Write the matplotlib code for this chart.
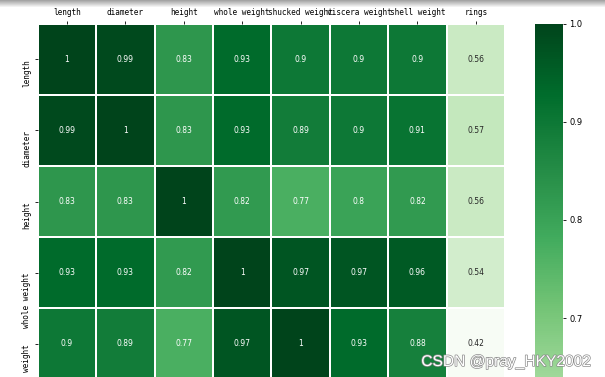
import numpy as np
import matplotlib
matplotlib.use("Agg")
import matplotlib.pyplot as plt
import matplotlib.patheffects as pe
import seaborn as sns

col_labels = ["length", "diameter", "height", "whole weight", "shucked weight",
              "viscera weight", "shell weight", "rings"]
row_labels = ["length", "diameter", "height", "whole weight", "shucked weight"]

row_length = [1.00, 0.99, 0.83, 0.93, 0.90, 0.90, 0.90, 0.56]
row_diameter = [0.99, 1.00, 0.83, 0.93, 0.89, 0.90, 0.91, 0.57]
row_height = [0.83, 0.83, 1.00, 0.82, 0.77, 0.80, 0.82, 0.56]
row_whole = [0.93, 0.93, 0.82, 1.00, 0.97, 0.97, 0.96, 0.54]
row_shucked = [0.90, 0.89, 0.77, 0.97, 1.00, 0.93, 0.88, 0.42]

vmin, vmax = 0.42, 1.0
cbar_ticks = [0.7, 0.8, 0.9, 1.0]

data = np.array([row_length, row_diameter, row_height, row_whole, row_shucked])

W, H = 605, 377
fig = plt.figure(figsize=(W / 100, H / 100), dpi=100)

# heatmap geometry (pixels)
left, right, top = 37.7, 505.0, 23.5
row_h = 71.2
n_rows_full = 8
ax_h = row_h * len(row_labels)
ax = fig.add_axes([left / W, (H - top - ax_h) / H, (right - left) / W, ax_h / H])

cb_left, cb_w = 535.0, 28.0
cb_h = row_h * n_rows_full
cax = fig.add_axes([cb_left / W, (H - top - cb_h) / H, cb_w / W, cb_h / H])

sns.heatmap(data, ax=ax, cbar_ax=cax, cmap="Greens", vmin=vmin, vmax=vmax,
            annot=True, fmt=".2g", linewidths=1.1, linecolor="white",
            annot_kws={"fontsize": 5.5, "family": "DejaVu Sans"},
            xticklabels=col_labels, yticklabels=row_labels,
            cbar_kws={"ticks": cbar_ticks})

ax.xaxis.tick_top()
ax.tick_params(axis="x", which="both", top=True, bottom=False, length=2.5, width=0.6,
               pad=2, labelsize=5.6, labelrotation=0)
ax.tick_params(axis="y", length=2.5, width=0.6, pad=2, labelsize=5.6)
for t in ax.get_xticklabels():
    t.set_family("DejaVu Sans Mono")
for t in ax.get_yticklabels():
    t.set_family("DejaVu Sans Mono")
    t.set_rotation(90)
    t.set_va("top")

cax.tick_params(labelsize=6, length=2.5, width=0.6, pad=2)
for t in cax.get_yticklabels():
    t.set_family("DejaVu Sans")
cax.yaxis.set_major_formatter(matplotlib.ticker.FormatStrFormatter("%.1f"))

# screenshot shadow at top
gax = fig.add_axes([0, (H - 8) / H, 1, 8 / H])
grad = np.linspace(0.55, 0.0, 8).reshape(-1, 1)
gax.imshow(np.dstack([np.full((8, 1), 0.35)] * 3 + [grad]),
           aspect="auto", interpolation="bilinear")
gax.axis("off")

# watermark
fig.text(590 / W, 11 / H, "CSDN @pray_HKY2002", ha="right", va="baseline", fontsize=11.2,
         color="white", family="Liberation Sans",
         path_effects=[pe.withStroke(linewidth=1.0, foreground="#8a8a8a")])

fig.savefig("out.png", dpi=100)
